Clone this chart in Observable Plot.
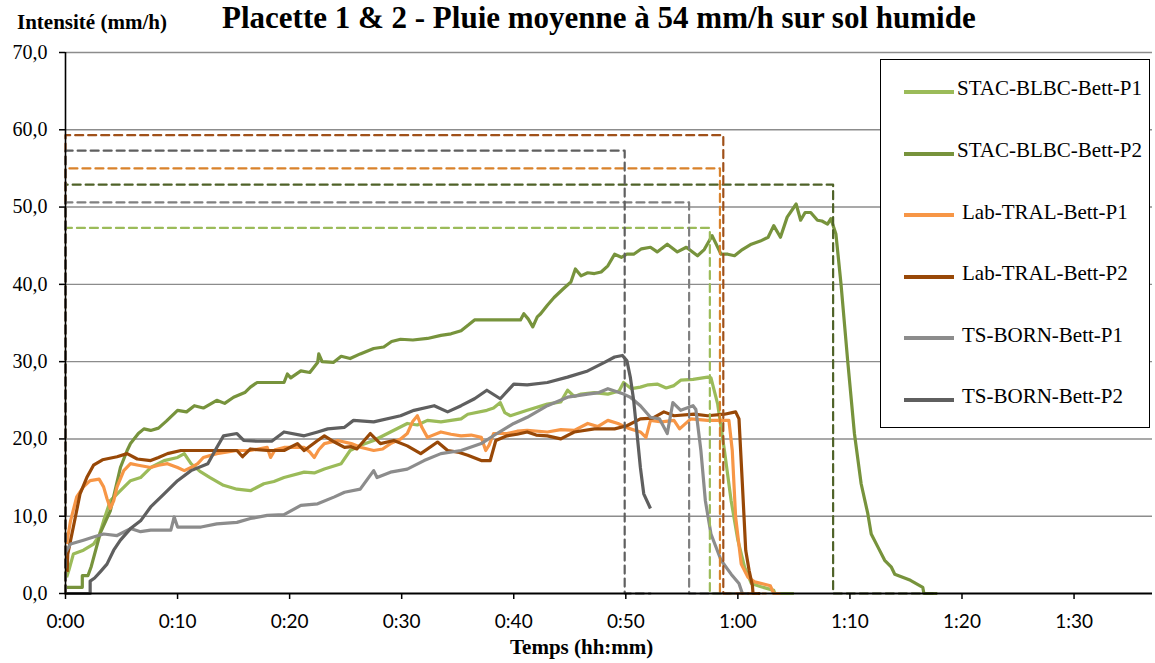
<!DOCTYPE html>
<html>
<head>
<meta charset="utf-8">
<script src="https://cdn.jsdelivr.net/npm/d3@7"></script>
<script src="https://cdn.jsdelivr.net/npm/@observablehq/plot@0.6"></script>
<style>
  html, body { margin: 0; padding: 0; background: #fff; }
  #wrap { position: relative; width: 1155px; height: 663px; overflow: hidden; }
  .lbl { position: absolute; font-family: "Liberation Serif", "Times New Roman", serif; color: #000; white-space: nowrap; }
  #legend { position: absolute; left: 880px; top: 59px; width: 270px; height: 369px; border: 1px solid #000; background: #fff; box-sizing: border-box; }
  .lgline { position: absolute; height: 4px; width: 50px; left: 23px; }
  .lgtext { position: absolute; font-family: "Liberation Serif", "Times New Roman", serif; font-size: 21px; line-height: 21px; color: #000; white-space: nowrap; }
</style>
</head>
<body>
<div id="wrap"></div>
<script>
// ---- Data (time in minutes, intensity in mm/h) ----
const seriesNames = ["STAC-BLBC-Bett-P1", "STAC-BLBC-Bett-P2", "Lab-TRAL-Bett-P1", "Lab-TRAL-Bett-P2", "TS-BORN-Bett-P1", "TS-BORN-Bett-P2"];
const seriesColors = ["#9BBB59", "#77933C", "#F79646", "#984807", "#8C8C8C", "#5F5F5F"];
const rainColors = ["#9BBB59", "#4F6228", "#D9822B", "#A0511A", "#808080", "#5F5F5F"];

const stacP1 = [[0.1,2.1],[0.3,3.0],[0.7,5.1],[1.6,5.6],[2.5,6.4],[3.0,7.5],[3.4,9.4],[4.0,12.0],[4.9,13.3],[5.8,14.6],[6.7,15.0],[7.6,16.3],[8.8,17.2],[10.0,17.6],[10.6,18.1],[11.2,16.8],[12.0,15.8],[12.9,15.0],[14.1,14.0],[15.3,13.5],[16.5,13.3],[17.7,14.2],[18.6,14.5],[19.5,15.0],[21.3,15.7],[22.2,15.6],[23.1,16.1],[24.6,16.8],[25.4,18.5],[26.4,19.2],[27.5,19.8],[29.0,20.9],[30.5,22.0],[31.4,21.8],[32.3,22.4],[33.5,22.2],[35.3,22.6],[35.9,23.2],[37.6,23.7],[38.2,24.0],[38.8,24.7],[39.2,23.4],[39.7,23.0],[41.2,23.7],[43.0,24.5],[44.2,24.8],[44.8,26.3],[45.4,25.5],[46.0,25.8],[47.2,26.0],[48.4,25.8],[49.4,26.2],[49.8,27.3],[50.5,26.5],[51.3,26.7],[52.0,27.0],[52.8,27.1],[53.6,26.6],[54.3,26.9],[54.9,27.6],[56.0,27.7],[57.3,28.0],[57.6,27.9],[58.2,24.5],[58.8,18.5],[59.4,12.0],[60.0,6.9],[60.6,3.4],[61.2,1.3],[62.0,0.9],[63.2,0.4],[63.3,0],[65.0,0]];
const stacP2 = [[0,0.8],[1.5,0.8],[1.5,2.3],[2.0,2.3],[2.3,3.5],[3.1,7.8],[4.0,10.7],[4.9,16.3],[5.5,18.5],[5.8,19.4],[6.5,20.7],[7.0,21.3],[7.6,21.1],[8.3,21.4],[9.0,22.3],[10.0,23.7],[10.8,23.5],[11.5,24.3],[12.3,24.0],[13.5,25.0],[14.2,24.6],[15.0,25.4],[16.0,26.0],[16.5,26.7],[17.1,27.3],[19.5,27.3],[19.8,28.4],[20.1,27.9],[21.0,28.8],[21.8,28.6],[22.5,29.9],[22.6,31.0],[22.9,30.0],[23.9,29.9],[24.6,30.7],[25.4,30.4],[26.3,31.0],[27.5,31.7],[28.4,31.9],[29.1,32.6],[29.9,32.9],[31.0,32.8],[32.3,33.0],[33.5,33.4],[34.4,33.6],[35.3,34.0],[36.0,34.8],[36.5,35.4],[40.6,35.4],[40.9,36.2],[41.3,35.5],[41.7,34.5],[42.1,35.8],[42.4,36.2],[43.0,37.3],[43.6,38.3],[44.4,39.4],[45.1,40.3],[45.5,42.0],[46.0,41.1],[46.6,41.5],[47.2,41.4],[47.8,41.6],[48.4,42.4],[49.0,43.9],[49.6,43.5],[50.1,43.9],[50.7,43.9],[51.4,44.6],[52.2,44.8],[52.8,44.2],[53.7,45.2],[54.6,44.2],[55.4,44.8],[56.4,43.7],[57.0,44.5],[57.7,46.3],[58.5,43.9],[59.1,43.9],[59.7,43.7],[60.4,44.5],[61.2,45.2],[62.0,45.6],[62.7,46.1],[63.2,47.6],[63.8,46.1],[64.4,48.7],[65.2,50.4],[65.6,48.3],[66.0,49.3],[66.5,49.3],[67.1,48.3],[67.5,48.2],[68.0,47.8],[68.3,48.5],[68.75,46.5],[69.2,40.1],[69.8,30.1],[70.4,20.7],[71.0,14.2],[71.6,10.3],[71.9,7.7],[72.5,6.0],[73.1,4.3],[73.7,3.4],[74.0,2.5],[75.4,1.7],[76.5,0.8],[76.6,0],[77.8,0]];
const labP1 = [[0.1,6.4],[0.45,9.4],[1.0,12.5],[1.6,13.8],[2.2,14.6],[3.0,14.8],[3.4,13.8],[3.7,12.3],[4.0,11.0],[4.3,12.0],[4.6,13.8],[5.2,15.9],[5.8,16.8],[6.5,16.6],[7.6,16.3],[8.3,16.6],[9.1,16.8],[10.0,16.3],[10.6,15.9],[11.2,16.3],[11.8,16.8],[12.3,17.6],[13.5,18.1],[15.3,18.5],[16.5,18.5],[18.0,18.9],[18.3,17.6],[18.7,18.6],[19.5,18.9],[21.3,18.9],[21.8,18.3],[22.2,17.6],[22.6,18.6],[23.1,19.4],[24.3,19.8],[25.5,19.4],[26.4,18.9],[27.5,18.5],[28.3,18.7],[29.0,19.4],[29.9,20.0],[30.5,20.7],[31.0,22.3],[31.4,23.0],[31.8,21.5],[32.3,20.2],[33.5,20.9],[34.4,20.6],[35.3,20.4],[36.2,20.5],[37.1,20.2],[37.5,18.5],[37.8,19.2],[38.2,20.7],[39.4,20.7],[40.3,21.0],[41.2,21.1],[43.0,20.9],[44.2,21.2],[45.4,21.1],[46.6,22.0],[47.5,21.6],[48.4,22.4],[49.3,22.0],[50.2,21.4],[51.3,20.9],[51.8,20.2],[52.2,22.4],[53.2,22.2],[54.3,22.4],[54.8,21.3],[55.8,22.6],[57.3,22.4],[59.2,22.4],[59.5,18.5],[59.8,9.9],[60.3,3.8],[60.9,2.1],[61.5,1.5],[62.9,1.0],[63.2,0],[63.8,0]];
const labP2 = [[0.15,2.8],[0.2,5.1],[0.7,8.6],[1.3,12.9],[1.9,15.0],[2.5,16.6],[3.3,17.3],[4.6,17.7],[5.5,18.1],[6.4,17.4],[7.6,17.2],[8.3,17.6],[9.1,18.1],[10.3,18.5],[15.3,18.5],[15.8,17.7],[16.5,18.7],[18.0,18.5],[19.5,18.5],[20.7,19.4],[21.3,18.5],[22.5,19.8],[23.1,20.4],[24.0,19.6],[24.9,18.9],[25.5,19.0],[26.0,18.7],[27.2,20.7],[28.1,19.4],[29.3,19.8],[30.5,19.1],[31.7,18.1],[33.2,19.6],[34.1,18.5],[35.0,18.3],[35.9,17.9],[37.1,17.2],[37.9,17.2],[38.4,19.8],[39.4,20.4],[40.3,20.6],[41.2,20.9],[42.0,20.5],[43.0,20.4],[44.2,20.0],[45.4,20.9],[47.2,21.3],[49.0,21.3],[50.1,21.7],[51.3,22.6],[52.4,22.7],[53.4,23.5],[54.3,23.0],[56.1,23.2],[57.3,23.0],[58.8,23.2],[59.8,23.5],[60.1,22.6],[60.4,14.2],[60.7,5.6],[61.0,3.0],[61.3,1.0],[61.35,0],[62.0,0]];
const tsP1 = [[0,5.3],[0.45,6.4],[1.6,6.9],[2.5,7.3],[3.4,7.7],[4.6,7.5],[5.8,8.4],[6.7,8.0],[7.6,8.2],[9.4,8.2],[9.7,9.9],[10.0,8.6],[12.1,8.6],[13.5,9.0],[15.3,9.2],[16.5,9.7],[18.0,10.1],[19.5,10.2],[21.0,11.4],[22.5,11.6],[24.0,12.5],[24.9,13.1],[26.3,13.5],[27.5,15.9],[27.8,15.0],[29.0,15.7],[30.5,16.1],[32.0,17.2],[33.5,18.1],[35.3,18.5],[37.1,19.4],[38.5,20.7],[40.0,22.0],[41.2,22.8],[43.0,24.3],[44.8,25.4],[46.6,25.8],[47.6,26.0],[48.4,26.5],[49.8,25.8],[50.4,25.4],[51.3,24.3],[52.2,22.8],[53.0,22.6],[53.7,20.7],[54.2,24.7],[54.9,23.7],[56.0,24.3],[56.25,23.8],[56.7,18.5],[57.1,12.0],[57.6,7.7],[58.5,4.3],[59.4,2.5],[60.1,1.3],[60.4,0],[61.0,0]];
const tsP2 = [[0,0],[2.2,0],[2.2,1.6],[2.6,2.0],[3.1,2.8],[3.7,3.8],[4.3,5.6],[4.9,6.9],[5.8,8.4],[6.7,9.4],[7.6,11.2],[8.8,12.9],[10.0,14.6],[11.2,15.9],[12.7,16.8],[13.5,18.9],[14.1,20.4],[15.3,20.7],[15.9,19.8],[17.1,19.7],[18.4,19.7],[19.5,20.9],[21.3,20.4],[22.5,20.9],[23.4,21.3],[24.9,21.5],[25.7,22.4],[27.5,22.2],[29.9,23.0],[31.1,23.7],[32.9,24.3],[34.1,23.5],[35.3,24.3],[36.5,25.2],[37.6,26.3],[38.8,25.2],[40.0,27.1],[41.2,27.0],[43.0,27.3],[44.8,28.0],[46.6,28.8],[48.1,29.9],[49.0,30.6],[49.7,30.8],[50.1,30.1],[50.4,28.0],[50.7,25.0],[51.0,20.7],[51.3,16.3],[51.6,12.9],[52.2,11.0]];

// Rain (simulated intensity) for each plot: intensity, end time, tail end time
const rainIntensity = [47.3, 52.9, 55.0, 59.3, 50.6, 57.3];
const rainEnd = [57.5, 68.5, 58.4, 58.7, 55.65, 49.9];
const rainTail = [60.0, 77.8, 62.5, 61.5, 60.0, 52.2];

const xTicks = [0, 10, 20, 30, 40, 50, 60, 70, 80, 90];
const yTicks = [0, 10, 20, 30, 40, 50, 60, 70];

// ---- Build tables ----
const runoff = [stacP1, stacP2, labP1, labP2, tsP1, tsP2];
const fmtTime = m => `${Math.floor(m / 60)}:${String(m % 60).padStart(2, "0")}`;
const fmtY = v => v.toFixed(1).replace(".", ",");

const runoffMarks = runoff.map((pts, i) =>
  Plot.line(pts.map(([t, v]) => ({t, v})), {
    x: "t", y: "v", stroke: seriesColors[i], strokeWidth: 3.2,
    strokeLinejoin: "round", strokeLinecap: "butt"
  })
);
const rainMarks = rainIntensity.map((r, i) =>
  Plot.line([{t: 0, v: 0}, {t: 0, v: r}, {t: rainEnd[i], v: r}, {t: rainEnd[i], v: 0}, {t: rainTail[i], v: 0}], {
    x: "t", y: "v", stroke: rainColors[i], strokeWidth: 2.2, strokeDasharray: "8,5"
  })
);

const chart = Plot.plot({
  width: 1155, height: 663,
  marginLeft: 65, marginRight: 3, marginTop: 52, marginBottom: 70,
  style: {background: "transparent", color: "#000", overflow: "visible"},
  x: {domain: [0, 97]},
  y: {domain: [0, 70]},
  marks: [
    Plot.ruleY(yTicks.filter(d => d > 0), {stroke: "#8C8C8C", strokeWidth: 1.4}),
    ...runoffMarks,
    ...rainMarks,
    Plot.ruleX([0], {stroke: "#000", strokeWidth: 1.6}),
    Plot.ruleY([0], {stroke: "#000", strokeWidth: 2}),
    Plot.axisX({ticks: xTicks, tickFormat: fmtTime, tickSize: 6, tickPadding: 15, label: null,
      fontSize: 19, fontFamily: "Lato, 'Open Sans', sans-serif", stroke: "#000", fill: "#000", strokeWidth: 1.5}),
    Plot.axisY({ticks: yTicks, tickFormat: fmtY, tickSize: 6, tickPadding: 12, label: null,
      fontSize: 20, fontFamily: "'Liberation Serif', 'Times New Roman', serif", stroke: "#000", fill: "#000", strokeWidth: 1.5})
  ]
});

const wrap = document.getElementById("wrap");
wrap.appendChild(chart);

function addLabel(text, left, top, size, bold, lh) {
  const d = document.createElement("div");
  d.className = "lbl";
  d.textContent = text;
  d.style.left = left + "px";
  d.style.top = top + "px";
  d.style.fontSize = size + "px";
  d.style.lineHeight = lh ? lh : size + "px";
  d.style.fontWeight = bold ? "bold" : "normal";
  wrap.appendChild(d);
  return d;
}
addLabel("Placette 1 & 2 - Pluie moyenne à 54 mm/h sur sol humide", 222, 0, 31, true, "normal");
addLabel("Intensité (mm/h)", 17, 12, 21, true);
addLabel("Temps (hh:mm)", 510, 637, 21, true);

// Legend
const legend = document.createElement("div");
legend.id = "legend";
wrap.appendChild(legend);
seriesNames.forEach((name, i) => {
  const cy = 32 + i * 61.6; // relative to legend top
  const ln = document.createElement("div");
  ln.className = "lgline";
  ln.style.background = seriesColors[i];
  ln.style.top = (cy - 2) + "px";
  legend.appendChild(ln);
  const tx = document.createElement("div");
  tx.className = "lgtext";
  tx.textContent = name;
  tx.style.left = (i < 2 ? 76 : 81) + "px";
  tx.style.top = (cy + 4 - 17.6) + "px";
  legend.appendChild(tx);
});
</script>
</body>
</html>
